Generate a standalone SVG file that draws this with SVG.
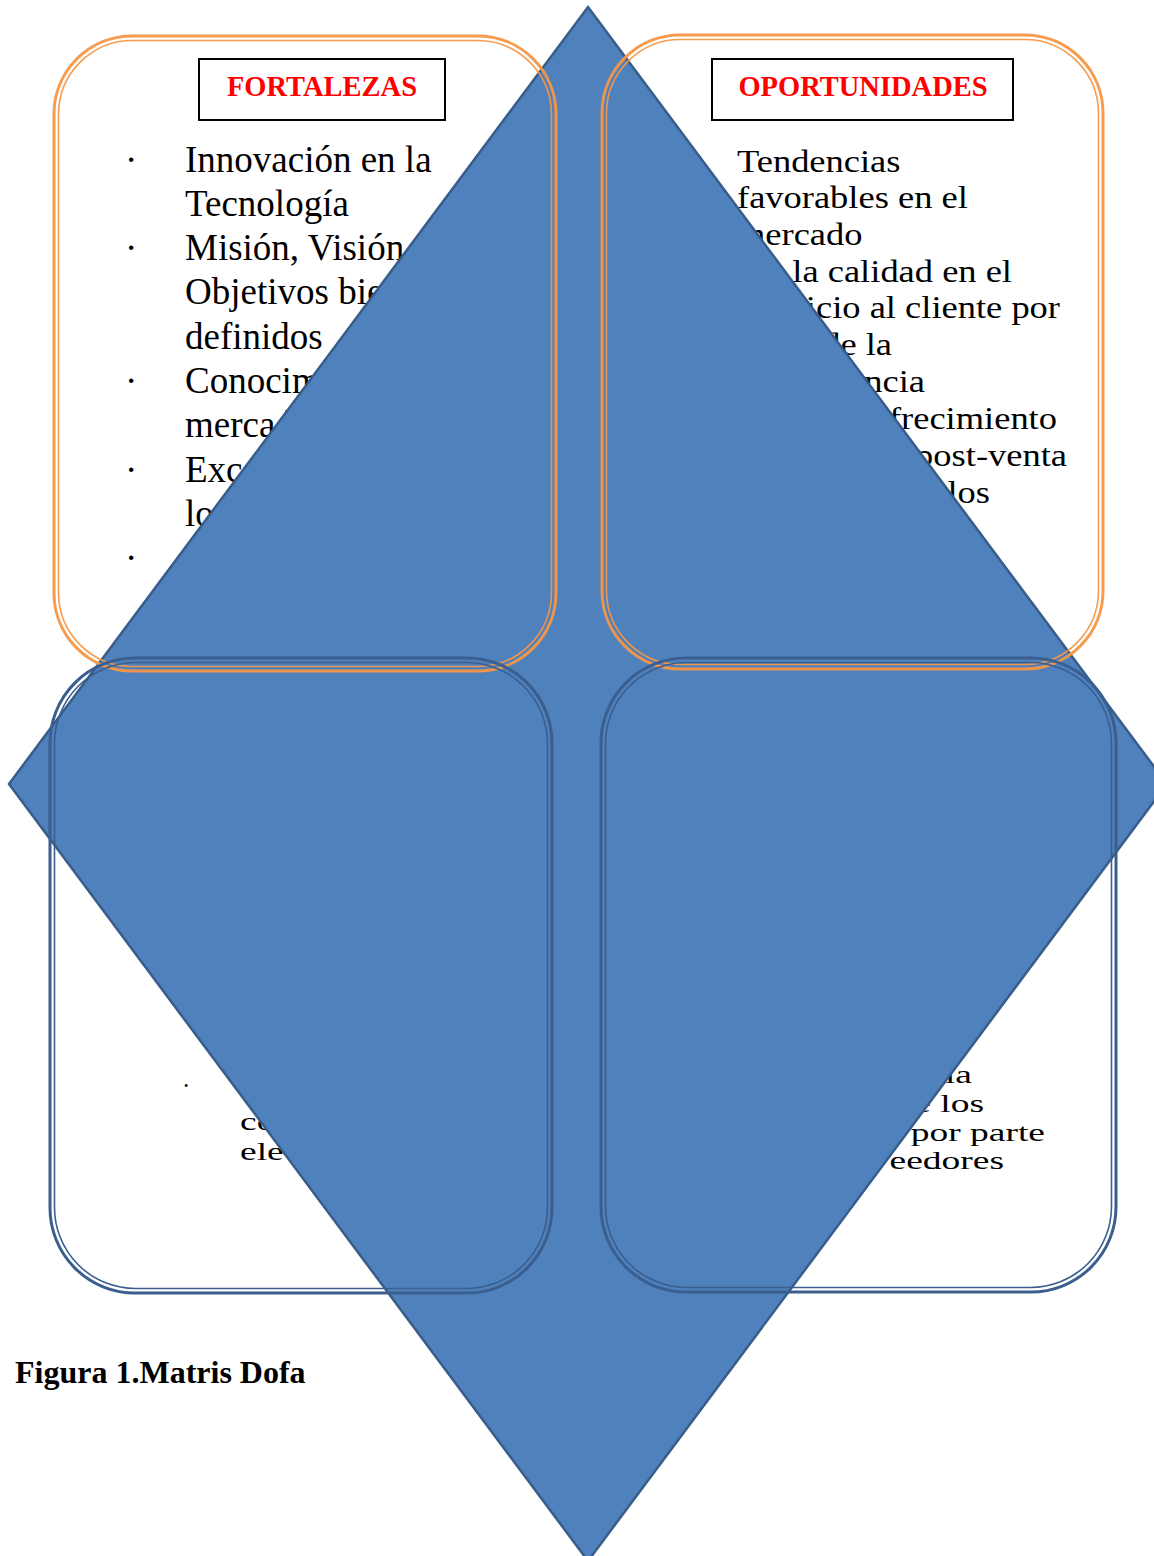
<svg xmlns="http://www.w3.org/2000/svg" width="1154" height="1556" viewBox="0 0 1154 1556">
<style>
.fill{fill:#FFFFFF;stroke:none}
.serif{font-family:"Liberation Serif","Times New Roman",serif;fill:#000000}
.tl{font-size:37px}
.tr{font-size:32px}
.bt{font-size:25px}
.title{font-family:"Liberation Serif","Times New Roman",serif;font-weight:bold;font-size:28.5px;fill:#FF0000;text-anchor:middle}
.tbox{fill:#FFFFFF;stroke:#000000;stroke-width:2}
.orange-o{fill:none;stroke:#F79646;stroke-width:3;stroke-opacity:0.95}
.orange-i{fill:none;stroke:#F79646;stroke-width:1.6;stroke-opacity:0.95}
.blue-o{fill:none;stroke:#3A5F8E;stroke-width:3}
.blue-i{fill:none;stroke:#3A5F8E;stroke-width:1.6}
.diamond{fill:#4F81BD;stroke:#385D8A;stroke-width:2.5}
</style>
<rect x="0" y="0" width="1154" height="1556" fill="#FFFFFF"/>

<g id="fortalezas">
  <rect class="fill" x="54" y="36" width="502" height="635" rx="78"/>
  <rect class="tbox" x="199" y="59" width="246" height="61"/>
  <text class="title" x="322" y="96">FORTALEZAS</text>
  <g class="serif tl">
    <text x="125" y="172">·</text>
    <text x="185" y="172">Innovación en la</text>
    <text x="185" y="216">Tecnología</text>
    <text x="125" y="260">·</text>
    <text x="185" y="260">Misión, Visión</text>
    <text x="185" y="304">Objetivos bien</text>
    <text x="185" y="349">definidos</text>
    <text x="125" y="393">·</text>
    <text x="185" y="393">Conocimiento</text>
    <text x="185" y="437">mercado</text>
    <text x="125" y="482">·</text>
    <text x="185" y="482">Excelencia</text>
    <text x="185" y="526">los</text>
    <text x="125" y="570">·</text>
  </g>
</g>

<g id="oportunidades">
  <rect class="fill" x="602" y="35" width="501" height="634" rx="78"/>
  <rect class="tbox" x="712" y="59" width="301" height="61"/>
  <text class="title" x="863" y="96">OPORTUNIDADES</text>
  <g class="serif tr">
    <text transform="translate(737,172) scale(1.14,1)">Tendencias</text>
    <text transform="translate(737,208) scale(1.14,1)">favorables en el</text>
    <text transform="translate(737,245) scale(1.14,1)">mercado</text>
    <text transform="translate(1012,282) scale(1.14,1)" text-anchor="end">la calidad en el</text>
    <text transform="translate(1060,318) scale(1.14,1)" text-anchor="end">servicio al cliente por</text>
    <text transform="translate(892,355) scale(1.14,1)" text-anchor="end">de la</text>
    <text transform="translate(925,392) scale(1.14,1)" text-anchor="end">competencia</text>
    <text transform="translate(1057,429) scale(1.14,1)" text-anchor="end">ofrecimiento</text>
    <text transform="translate(1067,466) scale(1.14,1)" text-anchor="end">post-venta</text>
    <text transform="translate(990,503) scale(1.14,1)" text-anchor="end">de los</text>
  </g>
</g>

<g id="debilidades">
  <rect class="fill" x="50" y="658" width="502" height="635" rx="85"/>
  <g class="serif bt">
    <text x="182" y="1094">·</text>
    <text transform="translate(240,1130) scale(1.5,1)">costos</text>
    <text transform="translate(240,1160) scale(1.5,1)">elevados</text>
  </g>
</g>

<g id="amenazas">
  <rect class="fill" x="601" y="658" width="515" height="634" rx="85"/>
  <g class="serif bt">
    <text transform="translate(972,1083) scale(1.5,1)" text-anchor="end">la</text>
    <text transform="translate(984,1112) scale(1.5,1)" text-anchor="end">de los</text>
    <text transform="translate(1045,1141) scale(1.5,1)" text-anchor="end">por parte</text>
    <text transform="translate(1004,1169) scale(1.5,1)" text-anchor="end">proveedores</text>
  </g>
</g>

<g id="rombo">
  <polygon class="diamond" points="588,7 1167,784 588,1561 9,784"/>
</g>

<g id="marcos">
  <rect class="orange-o" x="54" y="36" width="502" height="635" rx="78"/>
  <rect class="orange-i" x="58.5" y="40.5" width="493" height="626" rx="74"/>
  <rect class="orange-o" x="602" y="35" width="501" height="634" rx="78"/>
  <rect class="orange-i" x="606.5" y="39.5" width="492" height="625" rx="74"/>
  <rect class="blue-o" x="50" y="658" width="502" height="635" rx="85"/>
  <rect class="blue-i" x="54.5" y="662.5" width="493" height="626" rx="81"/>
  <rect class="blue-o" x="601" y="658" width="515" height="634" rx="85"/>
  <rect class="blue-i" x="605.5" y="662.5" width="506" height="625" rx="81"/>
</g>

<g id="connectors"></g>

<text x="15" y="1383" font-family="Liberation Serif, Times New Roman, serif" font-weight="bold" font-size="32" fill="#000000">Figura 1.Matris Dofa</text>
</svg>
